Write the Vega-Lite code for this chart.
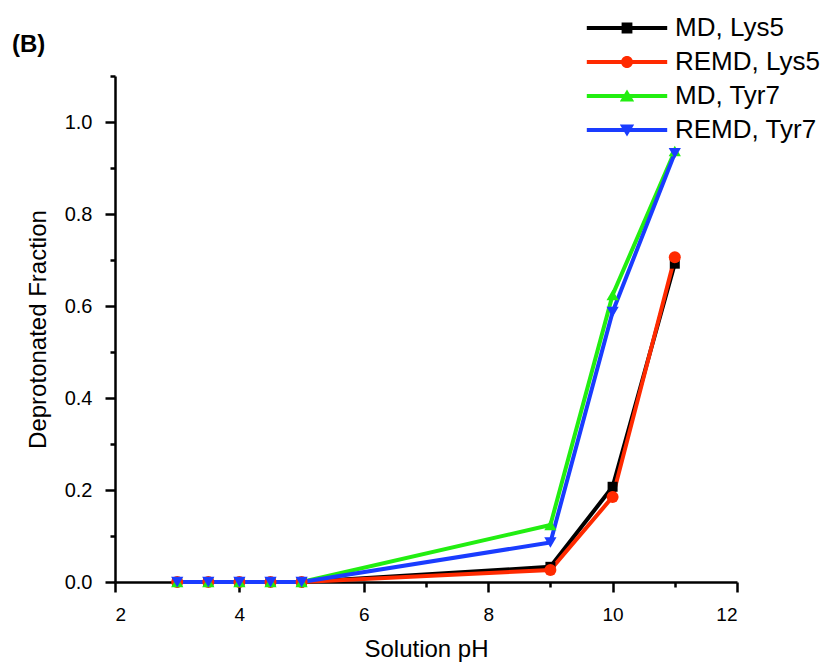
{
  "$schema": "https://vega.github.io/schema/vega-lite/v6.json",
  "autosize": {"type": "none"},
  "padding": {"left": 115, "top": 76, "right": 99, "bottom": 83},
  "width": 622,
  "height": 506,
  "background": "white",
  "config": {
    "font": "Liberation Sans",
    "view": {"stroke": null},
    "axis": {"grid": false, "domainColor": "black", "tickColor": "black", "domainWidth": 2.5, "tickWidth": 2.5, "labelColor": "black", "titleColor": "black", "labelFont": "Liberation Sans", "titleFont": "Liberation Sans", "titleFontWeight": "normal"}
  },
  "title": {"text": "(B)", "anchor": "start", "frame": "group", "fontSize": 24, "fontWeight": "bold", "font": "Liberation Sans", "color": "black", "dx": -103, "dy": 46},
  "datasets": {
    "pts": [
      {"series": "MD, Lys5", "pH": 3, "frac": 0},
      {"series": "MD, Lys5", "pH": 3.5, "frac": 0},
      {"series": "MD, Lys5", "pH": 4, "frac": 0},
      {"series": "MD, Lys5", "pH": 4.5, "frac": 0},
      {"series": "MD, Lys5", "pH": 5, "frac": 0},
      {"series": "MD, Lys5", "pH": 9, "frac": 0.033},
      {"series": "MD, Lys5", "pH": 10, "frac": 0.207},
      {"series": "MD, Lys5", "pH": 11, "frac": 0.692},
      {"series": "REMD, Lys5", "pH": 3, "frac": 0},
      {"series": "REMD, Lys5", "pH": 3.5, "frac": 0},
      {"series": "REMD, Lys5", "pH": 4, "frac": 0},
      {"series": "REMD, Lys5", "pH": 4.5, "frac": 0},
      {"series": "REMD, Lys5", "pH": 5, "frac": 0},
      {"series": "REMD, Lys5", "pH": 9, "frac": 0.026},
      {"series": "REMD, Lys5", "pH": 10, "frac": 0.185},
      {"series": "REMD, Lys5", "pH": 11, "frac": 0.706},
      {"series": "MD, Tyr7", "pH": 3, "frac": 0},
      {"series": "MD, Tyr7", "pH": 3.5, "frac": 0},
      {"series": "MD, Tyr7", "pH": 4, "frac": 0},
      {"series": "MD, Tyr7", "pH": 4.5, "frac": 0},
      {"series": "MD, Tyr7", "pH": 5, "frac": 0},
      {"series": "MD, Tyr7", "pH": 9, "frac": 0.124},
      {"series": "MD, Tyr7", "pH": 10, "frac": 0.624},
      {"series": "MD, Tyr7", "pH": 11, "frac": 0.937},
      {"series": "REMD, Tyr7", "pH": 3, "frac": 0},
      {"series": "REMD, Tyr7", "pH": 3.5, "frac": 0},
      {"series": "REMD, Tyr7", "pH": 4, "frac": 0},
      {"series": "REMD, Tyr7", "pH": 4.5, "frac": 0},
      {"series": "REMD, Tyr7", "pH": 5, "frac": 0},
      {"series": "REMD, Tyr7", "pH": 9, "frac": 0.086},
      {"series": "REMD, Tyr7", "pH": 10, "frac": 0.587},
      {"series": "REMD, Tyr7", "pH": 11, "frac": 0.932}
    ]
  },
  "data": {"name": "pts"},
  "encoding": {
    "x": {
      "field": "pH", "type": "quantitative",
      "scale": {"domain": [2, 12], "nice": false, "zero": false},
      "axis": {
        "title": "Solution pH", "titleFontSize": 24, "titlePadding": 13,
        "values": [2, 3, 4, 5, 6, 7, 8, 9, 10, 11, 12],
        "labelExpr": "datum.value % 2 == 0 ? datum.label : ''",
        "labelFontSize": 19, "labelPadding": 13,
        "tickSize": {"condition": {"test": "datum.value % 2 == 0", "value": 10}, "value": 5}
      }
    },
    "y": {
      "field": "frac", "type": "quantitative",
      "scale": {"domain": [0, 1.1], "nice": false},
      "axis": {
        "title": "Deprotonated Fraction", "titleFontSize": 24, "titlePadding": 14,
        "values": [0, 0.1, 0.2, 0.3, 0.4, 0.5, 0.6, 0.7, 0.8, 0.9, 1.0, 1.1],
        "labelExpr": "round(datum.value*10) % 2 == 0 ? format(datum.value, '.1f') : ''",
        "labelFontSize": 20, "labelPadding": 13,
        "tickSize": {"condition": {"test": "round(datum.value*10) % 2 == 0", "value": 10}, "value": 5}
      }
    }
  },
  "layer": [
    {
      "mark": {"type": "line", "strokeWidth": 4},
      "encoding": {
        "stroke": {"field": "series", "type": "nominal", "legend": null,
          "scale": {"domain": ["MD, Lys5", "REMD, Lys5", "MD, Tyr7", "REMD, Tyr7"], "range": ["#000000", "#ff2a00", "#22ee11", "#1a3cff"]}}
      }
    },
    {"transform": [{"filter": "datum.series == 'MD, Lys5'"}], "mark": {"type": "point", "shape": "square", "filled": true, "opacity": 1, "size": 100, "color": "#000000"}},
    {"transform": [{"filter": "datum.series == 'REMD, Lys5'"}], "mark": {"type": "point", "shape": "circle", "filled": true, "opacity": 1, "size": 144, "color": "#ff2a00"}},
    {"transform": [{"filter": "datum.series == 'MD, Tyr7'"}], "mark": {"type": "point", "shape": "triangle-up", "filled": true, "opacity": 1, "size": 150, "color": "#22ee11"}},
    {"transform": [{"filter": "datum.series == 'REMD, Tyr7'"}], "mark": {"type": "point", "shape": "triangle-down", "filled": true, "opacity": 1, "size": 150, "color": "#1a3cff"}},
    {
      "transform": [{"filter": "datum.pH > 100"}],
      "mark": {"type": "point", "filled": true, "opacity": 1},
      "encoding": {
        "color": {
          "field": "series", "type": "nominal",
          "scale": {"domain": ["MD, Lys5", "REMD, Lys5", "MD, Tyr7", "REMD, Tyr7"], "range": ["#000000", "#ff2a00", "#22ee11", "#1a3cff"]},
          "legend": {"title": null, "orient": "none", "legendX": 499, "legendY": -61, "padding": 0, "symbolSize": 144, "symbolStrokeWidth": 0, "symbolOpacity": 1, "labelFontSize": 26, "labelFont": "Liberation Sans", "labelColor": "black", "labelOffset": 35, "rowPadding": 8, "labelLimit": 300}
        },
        "shape": {
          "field": "series", "type": "nominal",
          "scale": {"domain": ["MD, Lys5", "REMD, Lys5", "MD, Tyr7", "REMD, Tyr7"], "range": [
            "M-6.7,-0.33H6.7V0.33H-6.7Z M-0.9,-0.9H0.9V0.9H-0.9Z",
            "M-6.7,-0.33H6.7V0.33H-6.7Z M1,0A1,1 0 1,1 -1,0A1,1 0 1,1 1,0Z",
            "M-6.7,-0.33H6.7V0.33H-6.7Z M0,-1.1L1.2,0.9L-1.2,0.9Z",
            "M-6.7,-0.33H6.7V0.33H-6.7Z M0,1.1L-1.2,-0.9L1.2,-0.9Z"
          ]},
          "legend": {"title": null, "orient": "none", "legendX": 499, "legendY": -61, "padding": 0, "symbolSize": 144, "symbolStrokeWidth": 0, "symbolOpacity": 1, "labelFontSize": 26, "labelFont": "Liberation Sans", "labelColor": "black", "labelOffset": 35, "rowPadding": 8, "labelLimit": 300}
        }
      }
    }
  ],
  "resolve": {"scale": {"color": "independent", "shape": "independent"}, "legend": {"color": "independent", "shape": "independent"}}
}
